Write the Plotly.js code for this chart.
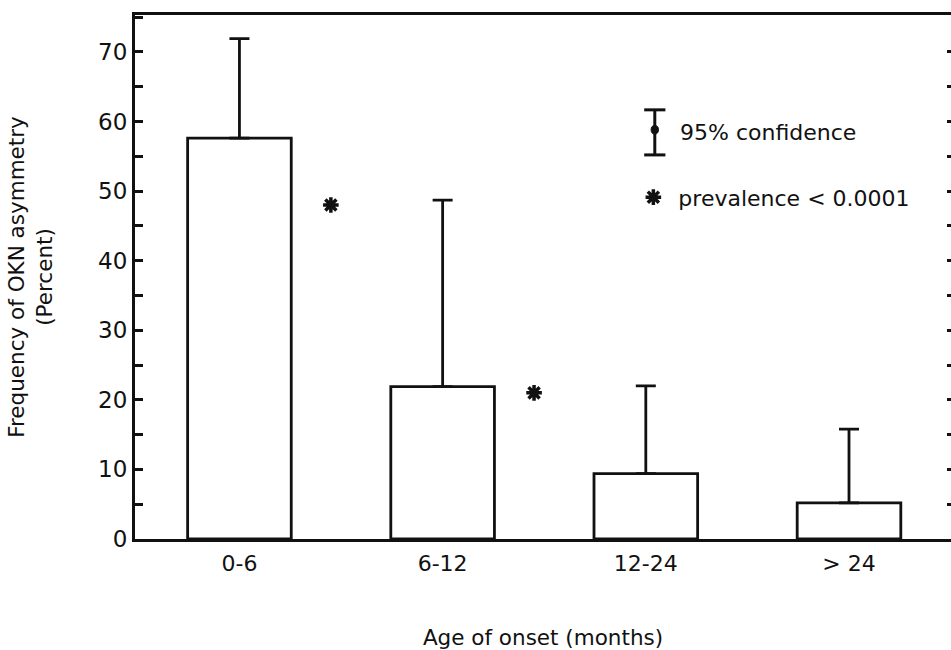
<!DOCTYPE html>
<html>
<head>
<meta charset="utf-8">
<script src="https://cdn.plot.ly/plotly-3.0.1.min.js"></script>
<style>html,body{margin:0;padding:0;background:#fff;}#chart{width:951px;height:650px;}</style>
</head>
<body>
<div id="chart"></div>
<script>
// ---- data ----
const categories = ['0-6', '6-12', '12-24', '> 24'];
const categoryPos = [0, 1, 2, 3];
const frequency = [57.6, 21.9, 9.4, 5.2];      // bar heights (percent)
const ciUpper = [71.9, 48.7, 22.0, 15.8];      // upper 95% confidence limit
const sigPos = [0.45, 1.45];                   // asterisks between groups
const sigValue = [48.0, 21.0];
const yTickVals = [0, 10, 20, 30, 40, 50, 60, 70];
const rightTickVals = [5, 10, 15, 20, 25, 30, 35, 40, 45, 50, 55, 60, 65, 70];

const FONT = 'DejaVu Sans, sans-serif';
const INK = '#111';

const bars = {
  type: 'bar',
  x: categoryPos,
  y: frequency,
  width: 0.51,
  marker: {color: '#fff', line: {color: INK, width: 2.8}},
  error_y: {
    type: 'data', symmetric: false,
    array: ciUpper.map((u, i) => u - frequency[i]),
    arrayminus: frequency.map(() => 0),
    color: INK, thickness: 2.8, width: 10
  },
  showlegend: false,
  hoverinfo: 'x+y'
};

const sig = {
  type: 'scatter', mode: 'markers',
  x: sigPos, y: sigValue,
  name: 'prevalence < 0.0001',
  marker: {symbol: 'asterisk-open', size: 13, color: INK, line: {color: INK, width: 3.5}},
  showlegend: true
};

const ghost = { // carries the right-hand tick axis
  type: 'scatter', mode: 'markers', x: [], y: [], yaxis: 'y2', showlegend: false, hoverinfo: 'skip'
};

const layout = {
  width: 951, height: 650,
  margin: {l: 135, r: 0, t: 15, b: 111},
  paper_bgcolor: '#fff', plot_bgcolor: '#fff',
  font: {family: FONT, size: 22, color: INK},
  bargap: 0,
  xaxis: {
    range: [-0.514, 3.502],
    tickvals: categoryPos, ticktext: categories,
    ticks: '', showgrid: false, zeroline: false,
    showline: true, linewidth: 3, linecolor: INK, mirror: true,
    tickfont: {size: 22}, ticklabelstandoff: 3,
    title: {text: 'Age of onset (months)', font: {size: 21.5}, standoff: 58},
    automargin: false
  },
  yaxis: {
    range: [0, 75.3],
    tickvals: yTickVals,
    ticks: 'inside', ticklen: 8, tickwidth: 3, tickcolor: INK,
    minor: {dtick: 5, tick0: 0, ticks: 'inside', ticklen: 8, tickwidth: 3, tickcolor: INK, showgrid: false},
    showgrid: false, zeroline: false,
    showline: true, linewidth: 3, linecolor: INK,
    tickfont: {size: 23},
    title: {text: 'Frequency of OKN asymmetry<br>(Percent)', font: {size: 21.5}, standoff: 40},
    automargin: false
  },
  yaxis2: {
    overlaying: 'y', side: 'right', range: [0, 75.3],
    tickvals: rightTickVals,
    ticks: 'inside', ticklen: 4, tickwidth: 3, tickcolor: INK,
    showticklabels: false, showgrid: false, zeroline: false, showline: false
  },
  showlegend: true,
  legend: {
    x: 0.6046, y: 0.652, xanchor: 'left', yanchor: 'middle',
    itemwidth: 40,
    bgcolor: 'rgba(0,0,0,0)', borderwidth: 0,
    font: {size: 22, color: INK}
  },
  shapes: [
    {type: 'line', xref: 'paper', yref: 'paper', x0: 0.637, x1: 0.637, y0: 0.733, y1: 0.819, line: {color: INK, width: 3}},
    {type: 'line', xref: 'paper', yref: 'paper', x0: 0.624, x1: 0.650, y0: 0.819, y1: 0.819, line: {color: INK, width: 3}},
    {type: 'line', xref: 'paper', yref: 'paper', x0: 0.624, x1: 0.650, y0: 0.733, y1: 0.733, line: {color: INK, width: 3}},
    {type: 'circle', xref: 'paper', yref: 'paper', x0: 0.6325, x1: 0.6415, y0: 0.773, y1: 0.789, fillcolor: INK, line: {color: INK, width: 1}}
  ],
  annotations: [
    {xref: 'paper', yref: 'paper', x: 0.665, y: 0.775, xanchor: 'left', yanchor: 'middle',
     text: '95% confidence', showarrow: false, font: {size: 22, color: INK}}
  ]
};

Plotly.newPlot('chart', [bars, sig, ghost], layout, {displayModeBar: false, staticPlot: true});
</script>
</body>
</html>
